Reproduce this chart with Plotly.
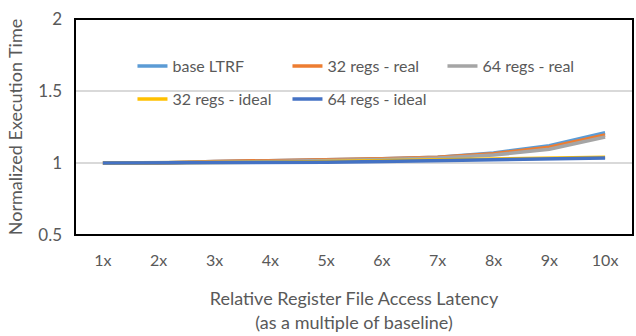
import plotly.graph_objects as go

categories = ["1x", "2x", "3x", "4x", "5x", "6x", "7x", "8x", "9x", "10x"]
base_ltrf = [1.0, 1.0, 1.01, 1.015, 1.02, 1.03, 1.04, 1.07, 1.12, 1.21]
regs32_real = [1.0, 1.0, 1.01, 1.015, 1.02, 1.03, 1.04, 1.065, 1.11, 1.195]
regs64_real = [1.0, 1.0, 1.005, 1.01, 1.015, 1.025, 1.035, 1.055, 1.095, 1.18]
regs32_ideal = [1.0, 1.0, 1.0, 1.005, 1.01, 1.015, 1.02, 1.025, 1.03, 1.04]
regs64_ideal = [1.0, 1.0, 1.0, 1.0, 1.005, 1.01, 1.015, 1.02, 1.025, 1.035]
y_ticks = [0.5, 1, 1.5, 2]

FONT = "Lato"
TXT = "#595959"

series = [
    ("base LTRF", base_ltrf, "#5B9BD5", "legend"),
    ("32 regs - real", regs32_real, "#ED7D31", "legend"),
    ("64 regs - real", regs64_real, "#A5A5A5", "legend"),
    ("32 regs - ideal", regs32_ideal, "#FFC000", "legend2"),
    ("64 regs - ideal", regs64_ideal, "#4472C4", "legend2"),
]

fig = go.Figure()
for name, vals, color, lg in series:
    fig.add_trace(go.Scatter(x=categories, y=vals, name=name, mode="lines",
                             line=dict(color=color, width=3.5), legend=lg))

legend_common = dict(orientation="h", bgcolor="rgba(0,0,0,0)", entrywidth=110,
                     entrywidthmode="pixels", xanchor="left", yanchor="middle",
                     font=dict(family=FONT, size=16, color=TXT), itemwidth=30)

fig.add_shape(type="rect", xref="x domain", yref="y domain", x0=0, x1=1, y0=0, y1=1,
              line=dict(color="black", width=2), fillcolor="rgba(0,0,0,0)", layer="above")

fig.update_layout(
    width=636, height=336,
    margin=dict(l=75, r=3, t=19, b=101),
    paper_bgcolor="white", plot_bgcolor="white",
    font=dict(family=FONT, size=16, color=TXT),
    showlegend=True,
    legend=dict(x=0.103, y=0.782, **legend_common),
    legend2=dict(x=0.103, y=0.629, **legend_common),
    xaxis=dict(type="category", range=[-0.5, 9.5], showline=False, showgrid=False,
               ticks="", tickfont=dict(size=16, color=TXT), ticklabelstandoff=14,
               title=dict(text="Relative Register File Access Latency<br>(as a multiple of baseline)",
                          font=dict(size=18, color=TXT), standoff=24)),
    yaxis=dict(range=[0.5, 2], tickvals=y_ticks, ticktext=["0.5", "1", "1.5", "2"],
               showline=False, showgrid=True, gridcolor="#D9D9D9", gridwidth=1.5,
               zeroline=False, ticks="", tickfont=dict(size=17, color=TXT),
               ticklabelstandoff=12,
               title=dict(text="Normalized Execution Time", font=dict(size=18, color=TXT),
                          standoff=10)),
)

fig.write_html("out.html", config={"displayModeBar": False},
               post_script="document.body.style.margin='0';")
